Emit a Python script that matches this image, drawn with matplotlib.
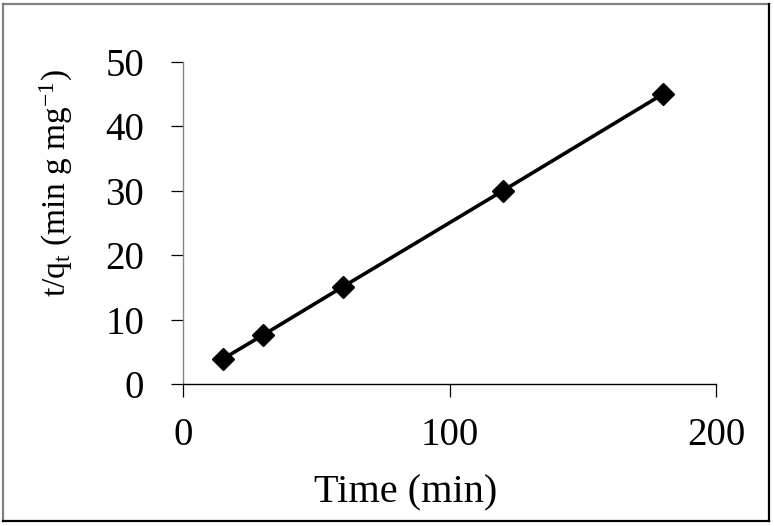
import matplotlib
matplotlib.use("Agg")
import matplotlib.pyplot as plt
from matplotlib.lines import Line2D

time_min = [15, 30, 60, 120, 180]
t_over_qt = [3.9, 7.6, 15.1, 30.0, 45.0]
x_ticks = [0, 100, 200]
y_ticks = [0, 10, 20, 30, 40, 50]

plt.rcParams['font.family'] = ['Liberation Serif', 'DejaVu Serif']
plt.rcParams['mathtext.fontset'] = 'custom'
plt.rcParams['mathtext.rm'] = 'Liberation Serif'
plt.rcParams['mathtext.it'] = 'Liberation Serif'

W, H = 774, 526
fig = plt.figure(figsize=(W / 100, H / 100), dpi=100)
ax = fig.add_axes([183 / W, 1 - 384 / H, (716 - 183) / W, (384 - 62) / H])

ax.plot(time_min, t_over_qt, color='black', linewidth=2.6, marker='D',
        markersize=11, markerfacecolor='black', markeredgecolor='black', clip_on=False)

ax.set_xlim(0, 200)
ax.set_ylim(0, 50)
ax.set_xticks(x_ticks)
ax.set_yticks(y_ticks)
ax.tick_params(axis='both', direction='out', length=9, width=0.9, labelsize=28, colors='black')
ax.tick_params(axis='x', pad=15)
ax.tick_params(axis='y', pad=19)
for s in ['top', 'right']:
    ax.spines[s].set_visible(False)
ax.spines['left'].set_color('#868686')
ax.spines['left'].set_linewidth(1.0)
ax.spines['bottom'].set_color('black')
ax.spines['bottom'].set_linewidth(1.0)

fig.text(406 / W, 1 - 493 / H, 'Time (min)', ha='center', va='center', fontsize=29)
fig.text(56 / W, 1 - 183 / H, r't/q$_{\mathregular{t}}$ (min g mg$^{\mathregular{-1}}$)',
         ha='center', va='center', rotation=90, fontsize=24)

# outer border
l, r, t, b = 3.5 / W, 769 / W, 1 - 3.5 / H, 1 - 521 / H
fig.add_artist(Line2D([l, l], [b, t], transform=fig.transFigure, color='#808080', linewidth=1.6))
fig.add_artist(Line2D([l, r], [t, t], transform=fig.transFigure, color='#808080', linewidth=1.6))
fig.add_artist(Line2D([r, r], [b, t], transform=fig.transFigure, color='black', linewidth=1.6))
fig.add_artist(Line2D([l, r], [b, b], transform=fig.transFigure, color='black', linewidth=1.6))

fig.savefig('out.png', dpi=100)
